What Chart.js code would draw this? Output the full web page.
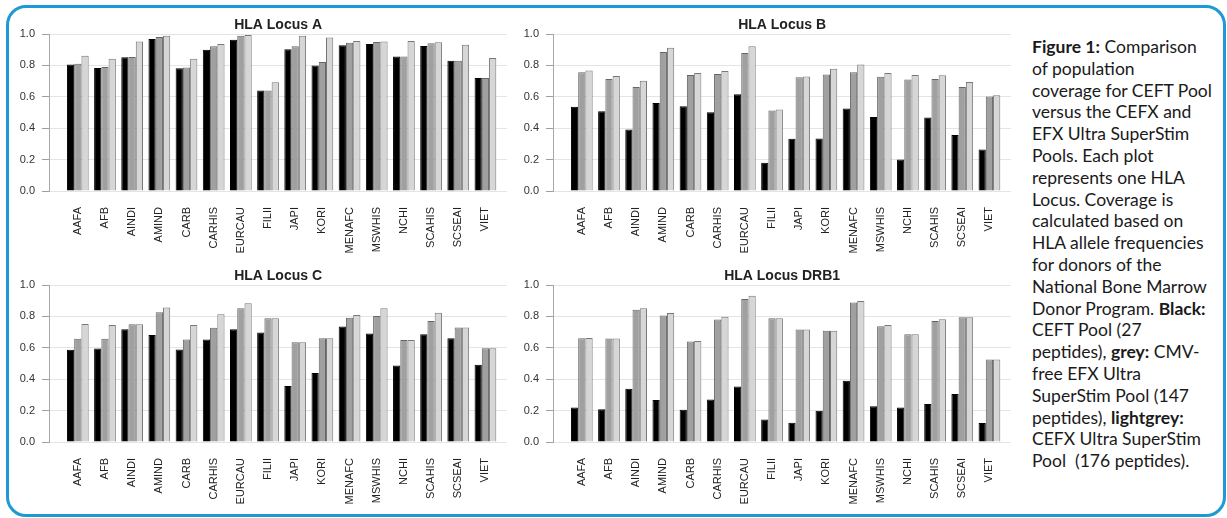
<!DOCTYPE html>
<html>
<head>
<meta charset="utf-8">
<script src="https://cdn.jsdelivr.net/npm/chart.js@4.4.0/dist/chart.umd.min.js"></script>
<style>
  body { margin: 0; background: #fff; width: 1227px; height: 518px; overflow: hidden; position: relative; }
  #frame { position: absolute; left: 6px; top: 5px; width: 1220px; height: 512px; box-sizing: border-box;
           border: 3px solid #1d9ad6; border-radius: 20px; }
  .plot { position: absolute; }
  #caption { position: absolute; left: 1032px; top: 36px; font-family: Lato, sans-serif; font-size: 18px;
             line-height: 21.8px; color: #1a1a1a; white-space: nowrap; }
</style>
</head>
<body>
<div id="frame"></div>
<canvas id="chartA" class="plot" width="515" height="255" style="left:0;top:0"></canvas>
<canvas id="chartB" class="plot" width="515" height="255" style="left:504px;top:0"></canvas>
<canvas id="chartC" class="plot" width="515" height="255" style="left:0;top:251px"></canvas>
<canvas id="chartD" class="plot" width="515" height="255" style="left:504px;top:251px"></canvas>
<div id="caption">
<b>Figure 1:</b> Comparison<br>of population<br>coverage for CEFT Pool<br>versus the CEFX and<br>EFX Ultra SuperStim<br>Pools. Each plot<br>represents one HLA<br>Locus. Coverage is<br>calculated based on<br>HLA allele frequencies<br>for donors of the<br>National Bone Marrow<br>Donor Program. <b>Black:</b><br>CEFT Pool (27<br>peptides), <b>grey:</b> CMV-<br>free EFX Ultra<br>SuperStim Pool (147<br>peptides), <b>lightgrey:</b><br>CEFX Ultra SuperStim<br>Pool&nbsp; (176 peptides).
</div>
<script>
const categories = ['AAFA', 'AFB', 'AINDI', 'AMIND', 'CARB', 'CARHIS', 'EURCAU', 'FILII',
                    'JAPI', 'KORI', 'MENAFC', 'MSWHIS', 'NCHI', 'SCAHIS', 'SCSEAI', 'VIET'];
const yTickValues = [0, 0.2, 0.4, 0.6, 0.8, 1.0];

// HLA Locus A
const locusA_CEFT = [0.805, 0.784, 0.852, 0.968, 0.782, 0.900, 0.964, 0.640, 0.903, 0.800, 0.928, 0.936, 0.856, 0.924, 0.830, 0.720];
const locusA_EFX  = [0.810, 0.790, 0.854, 0.981, 0.786, 0.922, 0.989, 0.640, 0.922, 0.822, 0.945, 0.949, 0.856, 0.941, 0.830, 0.720];
const locusA_CEFX = [0.862, 0.843, 0.953, 0.989, 0.843, 0.936, 0.994, 0.693, 0.989, 0.977, 0.955, 0.953, 0.955, 0.947, 0.932, 0.847];

// HLA Locus B
const locusB_CEFT = [0.536, 0.508, 0.392, 0.561, 0.540, 0.502, 0.617, 0.180, 0.333, 0.335, 0.525, 0.472, 0.200, 0.468, 0.356, 0.265];
const locusB_EFX  = [0.756, 0.714, 0.663, 0.886, 0.739, 0.746, 0.879, 0.513, 0.725, 0.742, 0.756, 0.727, 0.710, 0.714, 0.663, 0.602];
const locusB_CEFX = [0.767, 0.733, 0.703, 0.913, 0.752, 0.765, 0.922, 0.519, 0.729, 0.778, 0.805, 0.752, 0.739, 0.737, 0.695, 0.610];

// HLA Locus C
const locusC_CEFT = [0.587, 0.595, 0.718, 0.682, 0.589, 0.653, 0.718, 0.697, 0.356, 0.439, 0.735, 0.691, 0.487, 0.686, 0.661, 0.492];
const locusC_EFX  = [0.657, 0.657, 0.750, 0.826, 0.653, 0.727, 0.852, 0.788, 0.636, 0.661, 0.792, 0.803, 0.650, 0.771, 0.729, 0.597];
const locusC_CEFX = [0.752, 0.746, 0.750, 0.856, 0.746, 0.814, 0.883, 0.788, 0.636, 0.661, 0.809, 0.852, 0.650, 0.824, 0.729, 0.597];

// HLA Locus DRB1
const locusDRB1_CEFT = [0.220, 0.208, 0.339, 0.267, 0.205, 0.271, 0.354, 0.144, 0.123, 0.199, 0.390, 0.227, 0.220, 0.242, 0.305, 0.121];
const locusDRB1_EFX  = [0.661, 0.659, 0.843, 0.805, 0.640, 0.780, 0.911, 0.788, 0.716, 0.708, 0.888, 0.737, 0.686, 0.771, 0.794, 0.525];
const locusDRB1_CEFX = [0.663, 0.659, 0.852, 0.822, 0.644, 0.797, 0.932, 0.788, 0.716, 0.708, 0.898, 0.746, 0.686, 0.782, 0.794, 0.525];

const seriesNames = ['CEFT Pool', 'CMV-free EFX Ultra SuperStim Pool', 'CEFX Ultra SuperStim Pool'];
const seriesFill = ['#000000', '#a0a0a0', '#d6d6d6'];
const seriesEdge = ['#000000', '#666666', '#777777'];

const FONT = '"Liberation Sans", Arial, sans-serif';

function points(values) {
  return values.map((v, i) => ({ x: i, y: v }));
}

function makeChart(id, title, series) {
  const ctx = document.getElementById(id).getContext('2d');
  return new Chart(ctx, {
    type: 'bar',
    data: {
      datasets: series.map((vals, k) => ({
        label: seriesNames[k],
        data: points(vals),
        backgroundColor: seriesFill[k],
        borderColor: seriesEdge[k],
        borderWidth: 1,
        categoryPercentage: 0.8,
        barPercentage: 1.0
      }))
    },
    options: {
      responsive: false,
      animation: false,
      layout: { padding: { right: 4 } },
      plugins: {
        legend: { display: false },
        tooltip: { enabled: false },
        title: {
          display: true,
          text: title,
          fullSize: false,
          color: '#222',
          font: { family: FONT, size: 14, weight: 'bold' },
          padding: { top: 17, bottom: 0.2 }
        }
      },
      scales: {
        x: {
          type: 'linear',
          offset: false,
          min: -1.06,
          max: 15.8,
          grid: { display: false, drawTicks: false, offset: false },
          border: { display: false },
          afterBuildTicks: (scale) => { scale.ticks = categories.map((c, i) => ({ value: i })); },
          afterFit: (scale) => { scale.height = 64; },
          ticks: {
            autoSkip: false,
            minRotation: 90,
            maxRotation: 90,
            padding: 16,
            color: '#222',
            font: { family: FONT, size: 11 },
            callback: (value) => categories[value]
          }
        },
        y: {
          min: 0,
          max: 1,
          afterBuildTicks: (scale) => { scale.ticks = yTickValues.map(v => ({ value: v })); },
          afterFit: (scale) => { scale.width = 49; },
          grid: { color: '#e4e4e4', tickColor: '#a0a0a0', tickLength: 7 },
          border: { display: true, color: '#a8a8a8', width: 1 },
          ticks: {
            padding: 7,
            color: '#333',
            font: { family: FONT, size: 11 },
            callback: (value) => Number(value).toFixed(1)
          }
        }
      }
    }
  });
}

makeChart('chartA', 'HLA Locus A', [locusA_CEFT, locusA_EFX, locusA_CEFX]);
makeChart('chartB', 'HLA Locus B', [locusB_CEFT, locusB_EFX, locusB_CEFX]);
makeChart('chartC', 'HLA Locus C', [locusC_CEFT, locusC_EFX, locusC_CEFX]);
makeChart('chartD', 'HLA Locus DRB1', [locusDRB1_CEFT, locusDRB1_EFX, locusDRB1_CEFX]);

// fit caption font so the widest reference line matches its width in the figure
(function () {
  const c = document.createElement('canvas').getContext('2d');
  c.font = '100px Lato';
  const w = c.measureText('coverage for CEFT Pool').width;
  const size = Math.min(20, Math.max(14, 100 * 181 / w));
  document.getElementById('caption').style.fontSize = size.toFixed(2) + 'px';
})();
</script>
</body>
</html>
